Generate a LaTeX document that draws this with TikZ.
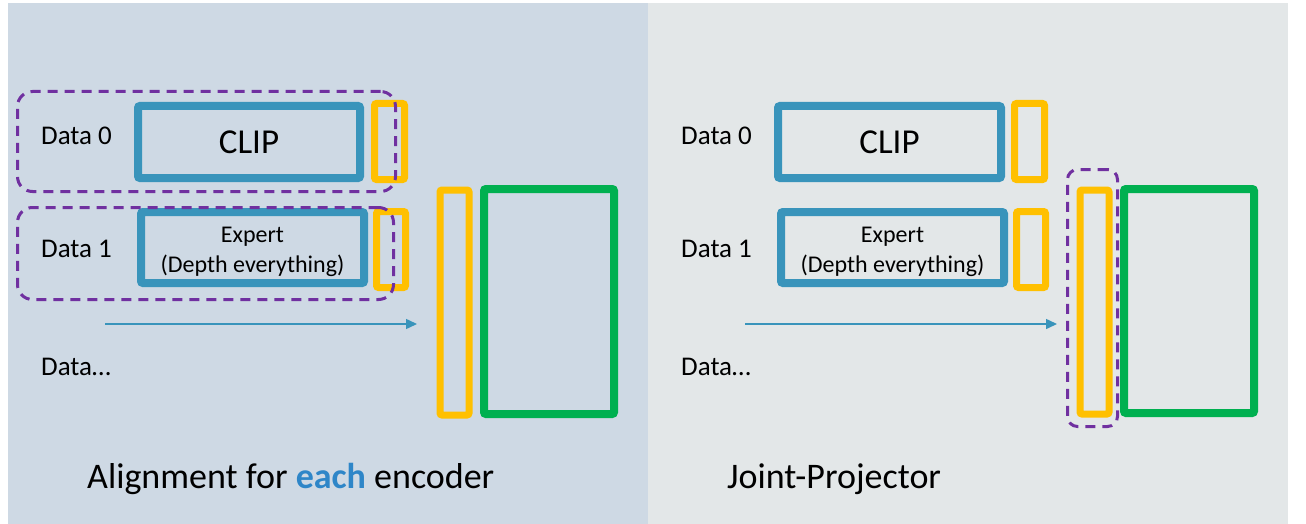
\documentclass[tikz,border=0pt]{standalone}
\usepackage{fontspec}
\setmainfont{Carlito}
\usepackage{xcolor}
\usepackage{tikz}
\usetikzlibrary{arrows.meta,positioning}
\tikzset{>={Triangle[length=11pt,width=10pt]}}
\definecolor{encblue}{RGB}{57,148,187}
\definecolor{projyellow}{RGB}{255,192,0}
\definecolor{llmgreen}{RGB}{0,176,80}
\definecolor{grppurple}{RGB}{112,48,160}
\definecolor{leftbg}{RGB}{206,217,228}
\definecolor{rightbg}{RGB}{227,231,232}
\definecolor{eachblue}{RGB}{46,134,200}
\newcommand{\datafont}{\fontsize{27}{32}\selectfont}
\newcommand{\clipfont}{\fontsize{35}{40}\selectfont}
\newcommand{\expfont}{\fontsize{24}{30}\selectfont}
\newcommand{\titlefont}{\fontsize{36}{42}\selectfont}

\begin{document}
\begin{tikzpicture}[x=1pt, y=-1pt,
                          encoder/.style={draw=encblue, line width=8pt, rounded corners=2pt, inner sep=0pt},
                          projector/.style={draw=projyellow, line width=7pt, rounded corners=2pt, inner sep=0pt},
                          llm/.style={draw=llmgreen, line width=8pt, rounded corners=2pt, inner sep=0pt},
                          group/.style={draw=grppurple, line width=3pt, dash pattern=on 10pt off 7pt, rounded corners=15pt, inner sep=0pt},
                          datalabel/.style={anchor=base west, font=\datafont, inner sep=0pt},
                          title/.style={anchor=base west, font=\titlefont, inner sep=0pt},
                          flow/.style={draw=encblue, line width=1.5pt, ->},
                         ]

\useasboundingbox (0,0) rectangle (1306,524);

% panels
\fill[leftbg] (8,3) rectangle (648,524);
\fill[rightbg] (648,3) rectangle (1288,524);

% alignment for each encoder
\node[datalabel] (ld0) at (41,144) {Data 0};
\node[datalabel] (ld1) at (41,257) {Data 1};
\node[datalabel] (ldn) at (41,375) {Data\dots};

\node[encoder, minimum width=222pt, minimum height=72pt, font=\clipfont] (lclip) at (249,142) {CLIP};
\node[encoder, minimum width=223pt, minimum height=71pt] (lexp) at (252.5,247.5) {};
\node[font=\expfont, align=center, inner sep=0pt] (lexptxt) at ([yshift=-4.5pt]lexp.center) {Expert\\(Depth everything)};

\node[projector, minimum width=30pt, minimum height=76pt] (lproj0) at (389.5,141.5) {};
\node[projector, minimum width=29pt, minimum height=76pt] (lproj1) at (391,249.5) {};

\coordinate (lfrom) at (105,324);
\coordinate (lto) at (417,324);
\draw[flow] (lfrom) -- (lto);

\node[projector, minimum width=29pt, minimum height=225pt] (lproj) at (454.5,302.5) {};
\node[llm, minimum width=130pt, minimum height=225pt] (lllm) at (549,301.5) {};

\node[group, minimum width=378pt, minimum height=100pt] (lgrp0) at (206.5,141.5) {};
\node[group, minimum width=376pt, minimum height=92pt] (lgrp1) at (205.5,253.5) {};

\node[title] (ltitle) at (87,488) {Alignment for \textcolor{eachblue}{\textbf{each}} encoder};

% joint projector
\node[datalabel] (rd0) at (681,144) {Data 0};
\node[datalabel] (rd1) at (681,257) {Data 1};
\node[datalabel] (rdn) at (681,375) {Data\dots};

\node[encoder, minimum width=223pt, minimum height=72pt, font=\clipfont] (rclip) at (889.5,142) {CLIP};
\node[encoder, minimum width=223pt, minimum height=71pt] (rexp) at (892.5,247.5) {};
\node[font=\expfont, align=center, inner sep=0pt] (rexptxt) at ([yshift=-4.5pt]rexp.center) {Expert\\(Depth everything)};

\node[projector, minimum width=30pt, minimum height=76pt] (rproj0) at (1029.5,141.5) {};
\node[projector, minimum width=29pt, minimum height=76pt] (rproj1) at (1031,249.5) {};

\coordinate (rfrom) at (745,324);
\coordinate (rto) at (1057,324);
\draw[flow] (rfrom) -- (rto);

\node[projector, minimum width=29pt, minimum height=224pt] (rproj) at (1094.5,302) {};
\node[llm, minimum width=130pt, minimum height=224pt] (rllm) at (1189,301) {};

\node[group, minimum width=50pt, minimum height=257pt, rounded corners=10pt] (rgrp) at (1092.5,298) {};

\node[title] (rtitle) at (727,488) {Joint-Projector};


\end{tikzpicture}
\end{document}
